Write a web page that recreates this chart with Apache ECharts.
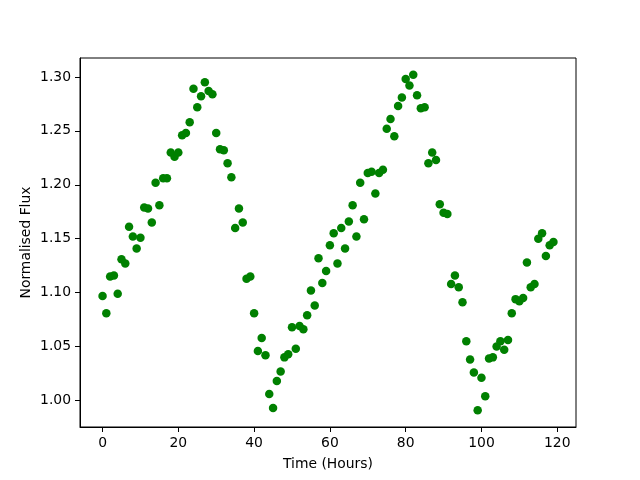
<!DOCTYPE html>
<html>
<head>
<meta charset="utf-8">
<script src="https://cdn.jsdelivr.net/npm/echarts@6/dist/echarts.min.js"></script>
<style>html,body{margin:0;padding:0;background:#fff}#c{width:640px;height:480px}</style>
</head>
<body>
<div id="c"></div>
<script>
const hours = [];
for (let i = 0; i < 120; i++) hours.push(i);
const flux = [
1.097,1.081,1.115,1.116,1.099,1.131,1.127,1.161,1.152,1.141,
1.151,1.179,1.178,1.165,1.202,1.181,1.206,1.206,1.230,1.226,
1.230,1.246,1.248,1.258,1.289,1.272,1.282,1.295,1.287,1.284,
1.248,1.233,1.232,1.220,1.207,1.160,1.178,1.165,1.113,1.115,
1.081,1.046,1.058,1.042,1.006,0.993,1.018,1.027,1.040,1.043,
1.068,1.048,1.069,1.066,1.079,1.102,1.088,1.132,1.109,1.120,
1.144,1.155,1.127,1.160,1.141,1.166,1.181,1.152,1.202,1.168,
1.211,1.212,1.192,1.211,1.214,1.252,1.261,1.245,1.273,1.281,
1.298,1.292,1.302,1.283,1.271,1.272,1.220,1.230,1.223,1.182,
1.174,1.173,1.108,1.116,1.105,1.091,1.055,1.038,1.026,0.991,
1.021,1.004,1.039,1.040,1.050,1.055,1.047,1.056,1.081,1.094,
1.092,1.095,1.128,1.105,1.108,1.150,1.155,1.134,1.144,1.147
];
const xTicks = [0, 20, 40, 60, 80, 100, 120];
const yTicks = [1.00, 1.05, 1.10, 1.15, 1.20, 1.25, 1.30];
const xLabel = 'Time (Hours)';
const yLabel = 'Normalised Flux';

const xmin = Math.min(...hours), xmax = Math.max(...hours);
const ymin = Math.min(...flux), ymax = Math.max(...flux);
const xm = (xmax - xmin) * 0.05, ym = (ymax - ymin) * 0.05;
const font = 'DejaVu Sans';

const chart = echarts.init(document.getElementById('c'), null, {renderer: 'canvas'});
chart.setOption({
  animation: false,
  backgroundColor: '#fff',
  grid: {left: 80, right: 64, top: 58, bottom: 53, show: true, borderColor: '#000', borderWidth: 1, backgroundColor: 'transparent'},
  xAxis: {
    type: 'value', min: xmin - xm, max: xmax + xm,
    name: xLabel, nameLocation: 'middle', nameGap: 30, nameMoveOverlap: false,
    nameTextStyle: {fontFamily: font, fontSize: 13.9, color: '#000'},
    splitLine: {show: false},
    axisLine: {show: true, onZero: false, lineStyle: {color: '#000', width: 1}},
    axisTick: {show: true, inside: false, length: 5, lineStyle: {color: '#000'}, customValues: xTicks},
    axisLabel: {fontFamily: font, fontSize: 13.9, color: '#000', margin: 9, customValues: xTicks, formatter: v => String(Math.round(v))}
  },
  yAxis: {
    type: 'value', min: ymin - ym, max: ymax + ym,
    name: yLabel, nameLocation: 'middle', nameGap: 47, nameRotate: 90, nameMoveOverlap: false,
    nameTextStyle: {fontFamily: font, fontSize: 13.9, color: '#000'},
    splitLine: {show: false},
    axisLine: {show: true, onZero: false, lineStyle: {color: '#000', width: 1}},
    axisTick: {show: true, inside: false, length: 5, lineStyle: {color: '#000'}, customValues: yTicks},
    axisLabel: {fontFamily: font, fontSize: 13.9, color: '#000', margin: 9, customValues: yTicks, formatter: v => v.toFixed(2)}
  },
  series: [{
    type: 'scatter',
    data: hours.map((h, i) => [h, flux[i]]),
    symbol: 'circle', symbolSize: 8.5,
    itemStyle: {color: '#008000', opacity: 1},
    emphasis: {disabled: true}
  }]
});
</script>
</body>
</html>
